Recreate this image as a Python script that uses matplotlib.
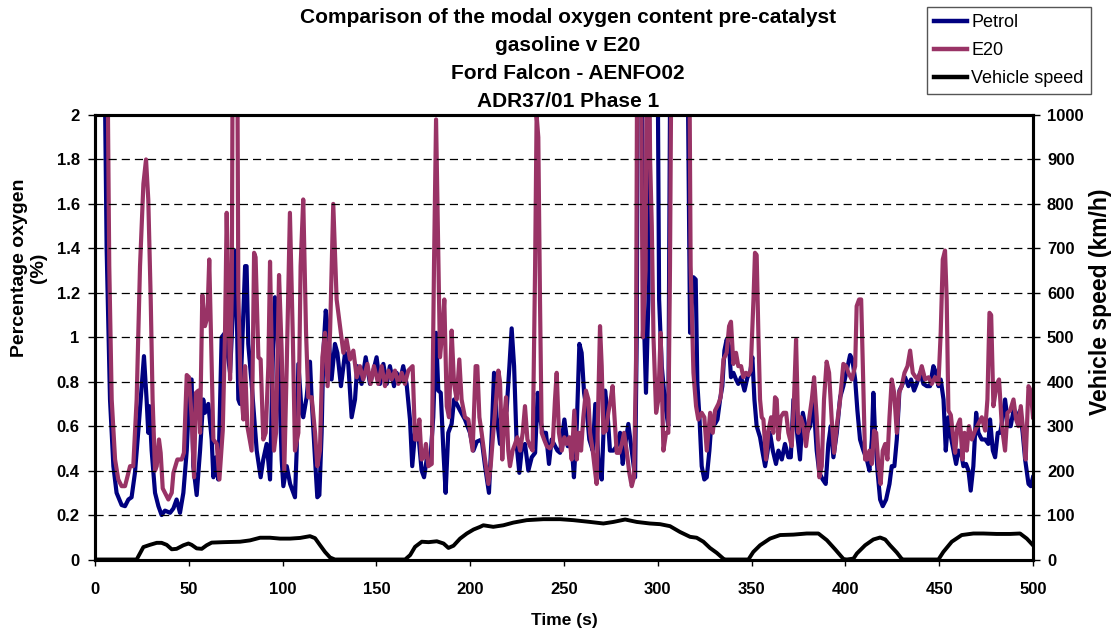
import matplotlib
matplotlib.use("Agg")
import matplotlib.pyplot as plt

plt.rcParams['font.family'] = ['Liberation Sans', 'DejaVu Sans']

# values (3.0 = off the top of the scale)
petrol_t = [4.0, 5.3, 6.2, 8.0, 9.8, 11.5, 14.2, 16.0, 17.8, 19.5, 21.3, 23.1, 24.9, 26.1, 27.5, 28.4, 29.0, 30.2,
            32.0, 33.8, 35.5, 37.3, 40.0, 41.8, 43.5, 45.3, 47.1, 48.9, 50.6, 51.5, 52.4, 54.2, 56.0, 57.7, 58.6,
            60.4, 62.2, 63.1, 64.5, 65.7, 67.5, 69.3, 72.0, 75.0, 76.4, 77.3, 80.0, 80.8, 81.7, 83.5, 86.2, 88.3,
            89.7, 91.5, 93.3, 95.1, 95.9, 97.7, 99.5, 100.4, 102.2, 104.0, 106.6, 107.5, 108.4, 110.2, 111.0,
            112.8, 114.6, 115.5, 117.3, 118.5, 119.6, 120.8, 121.7, 123.0, 124.4, 126.1, 127.9, 129.2, 131.1,
            133.3, 135.0, 136.8, 138.6, 139.8, 142.1, 144.3, 146.6, 148.4, 150.1, 151.9, 153.7, 155.5, 157.2,
            159.4, 160.8, 162.5, 164.3, 166.1, 167.9, 169.1, 170.6, 172.3, 174.1, 175.4, 176.8, 178.6, 180.3,
            181.8, 183.0, 184.3, 185.7, 186.9, 188.3, 190.1, 191.4, 192.8, 194.6, 197.2, 199.9, 201.7, 203.5,
            206.1, 207.9, 210.0, 211.5, 212.7, 214.1, 215.9, 217.7, 219.4, 220.9, 222.1, 223.4, 224.8, 226.2,
            227.4, 229.2, 231.0, 232.8, 234.6, 236.0, 237.2, 238.6, 240.4, 242.0, 243.4, 246.5, 247.9, 250.2,
            252.0, 254.1, 255.3, 256.8, 258.2, 259.4, 260.7, 262.1, 263.5, 265.3, 266.7, 268.3, 270.1, 271.9,
            273.1, 274.5, 276.3, 278.1, 279.9, 281.3, 282.5, 284.3, 286.1, 287.9, 288.8, 289.6, 290.9, 292.3,
            293.7, 295.0, 295.9, 299.4, 300.7, 302.1, 303.9, 305.6, 307.1, 315.1, 317.2, 319.0, 320.2, 321.1,
            322.2, 323.4, 324.8, 326.1, 327.5, 328.7, 330.5, 331.8, 333.2, 334.4, 335.5, 336.7, 338.0, 339.0,
            340.3, 341.7, 342.9, 344.4, 346.2, 347.8, 349.2, 350.4, 351.5, 352.7, 354.5, 355.9, 357.2, 358.4,
            359.8, 361.3, 363.0, 364.3, 366.1, 367.8, 369.6, 370.9, 372.3, 374.1, 375.8, 377.3, 379.4, 381.2,
            382.9, 384.7, 386.1, 387.9, 389.5, 390.9, 392.2, 393.6, 395.4, 397.2, 398.9, 400.7, 402.5, 403.7,
            405.2, 406.4, 407.8, 409.6, 411.4, 412.8, 414.1, 414.9, 415.8, 417.1, 418.5, 419.9, 421.7, 423.5,
            424.7, 426.1, 427.4, 428.8, 430.0, 431.8, 433.6, 435.0, 436.6, 438.0, 439.8, 441.6, 443.4, 445.1,
            446.9, 448.3, 449.6, 450.8, 452.3, 453.5, 454.9, 455.8, 457.6, 459.0, 460.3, 461.7, 462.9, 464.3,
            465.6, 466.8, 468.2, 469.7, 470.9, 472.7, 474.5, 476.2, 477.1, 478.6, 479.8, 481.2, 482.5, 483.9,
            485.1, 486.9, 488.1, 489.6, 491.4, 493.1, 494.5, 495.8, 497.6, 498.8, 500.0]
petrol_o2 = [3.0, 2.1, 1.4, 0.72, 0.42, 0.30, 0.245, 0.24, 0.27, 0.28, 0.39, 0.58, 0.78, 0.915, 0.72, 0.57, 0.69, 0.49,
             0.30, 0.24, 0.20, 0.22, 0.21, 0.23, 0.27, 0.21, 0.30, 0.49, 0.81, 0.81, 0.42, 0.29, 0.49, 0.72, 0.66,
             0.70, 0.54, 0.37, 0.46, 0.36, 1.0, 1.02, 0.84, 1.39, 0.72, 0.70, 1.32, 1.32, 0.97, 0.79, 0.49, 0.37,
             0.45, 0.52, 0.36, 1.02, 1.18, 0.93, 0.45, 0.33, 0.42, 0.34, 0.28, 0.49, 0.88, 0.66, 0.64,
             0.73, 0.89, 0.72, 0.45, 0.28, 0.29, 0.57, 0.93, 1.12, 1.02, 0.81, 0.97, 0.93, 0.78,
             0.93, 0.88, 0.64, 0.72, 0.87, 0.79, 0.91, 0.79, 0.85, 0.91, 0.79, 0.88, 0.79, 0.87,
             0.78, 0.84, 0.80, 0.87, 0.79, 0.63, 0.42, 0.57, 0.57, 0.40, 0.37, 0.45, 0.43, 0.64,
             1.02, 0.76, 0.75, 0.49, 0.30, 0.57, 0.61, 0.72, 0.70, 0.67, 0.63, 0.57, 0.49, 0.53,
             0.54, 0.42, 0.30, 0.57, 0.84, 0.64, 0.52, 0.63, 0.67, 0.87, 1.04, 0.87, 0.51, 0.39,
             0.49, 0.52, 0.40, 0.46, 0.48, 0.75, 0.64, 0.57, 0.57, 0.43, 0.54, 0.49, 0.48, 0.63,
             0.51, 0.51, 0.37, 0.60, 0.97, 0.93, 0.75, 0.67, 0.54, 0.49, 0.70, 0.45, 0.36, 0.76,
             0.67, 0.49, 0.49, 0.51, 0.57, 0.43, 0.51, 0.61, 0.49, 0.37, 1.02, 3.0, 3.0, 1.17,
             0.75, 1.17, 3.0, 3.0, 1.17, 0.87, 0.70, 0.60, 3.0, 3.0, 1.02, 1.27, 1.26, 0.79,
             0.64, 0.42, 0.36, 0.37, 0.49, 0.63, 0.61, 0.63, 0.72, 0.78, 0.94, 0.99, 0.96, 0.82,
             0.84, 0.81, 0.79, 0.82, 0.76, 0.82, 0.84, 0.91, 0.72, 0.60, 0.55, 0.48, 0.42, 0.48,
             0.57, 0.49, 0.43, 0.49, 0.45, 0.52, 0.46, 0.46, 0.72, 0.58, 0.45, 0.66, 0.57, 0.60,
             0.72, 0.49, 0.39, 0.36, 0.34, 0.52, 0.60, 0.46, 0.57, 0.73, 0.78, 0.85, 0.92, 0.90,
             0.81, 0.67, 0.54, 0.49, 0.45, 0.40, 0.54, 0.75, 0.57, 0.40, 0.27, 0.24, 0.27, 0.34,
             0.42, 0.42, 0.54, 0.76, 0.78, 0.82, 0.78, 0.81, 0.76, 0.79, 0.84, 0.79, 0.78, 0.78,
             0.87, 0.84, 0.78, 0.81, 0.72, 0.49, 0.64, 0.57, 0.49, 0.43, 0.49, 0.48, 0.42, 0.43,
             0.40, 0.31, 0.42, 0.66, 0.57, 0.54, 0.54, 0.52, 0.63, 0.49, 0.46, 0.57, 0.57, 0.64,
             0.72, 0.60, 0.60, 0.67, 0.64, 0.67, 0.57, 0.45, 0.34, 0.33, 0.37]

e20_t = [5.5, 6.6, 7.6, 8.9, 10.7, 12.4, 14.2, 16.0, 17.8, 18.7, 20.4, 22.2, 24.0, 25.8, 27.2, 28.4, 29.7, 30.7,
         32.0, 32.9, 34.1, 35.0, 36.1, 37.3, 39.1, 40.9, 41.8, 43.9, 46.2, 47.4, 48.9, 50.1, 51.5, 52.8, 53.8,
         55.1, 56.0, 57.2, 58.6, 59.9, 60.9, 62.2, 63.1, 64.9, 66.3, 68.1, 69.3, 70.2, 71.1, 72.0, 72.9, 73.7,
         75.5, 76.4, 77.6, 79.1, 80.0, 81.2, 83.5, 84.8, 85.6, 87.1, 88.3, 89.7, 91.0, 92.4, 93.3, 94.2, 95.4,
         96.5, 98.1, 99.5, 100.9, 102.2, 103.9, 105.4, 106.6, 108.4, 109.6, 111.0, 112.5, 113.7, 115.5, 117.3,
         118.5, 119.9, 121.2, 122.6, 124.0, 125.3, 127.0, 128.8, 130.6, 132.4, 134.1, 135.9, 137.7, 139.5,
         141.2, 143.0, 145.2, 146.9, 148.7, 151.0, 152.8, 154.6, 156.4, 158.1, 159.9, 161.7, 163.5, 165.2,
         167.0, 169.3, 170.6, 171.8, 172.9, 174.1, 175.4, 176.4, 177.7, 179.5, 180.7, 181.8, 182.8, 183.9,
         185.1, 186.2, 187.5, 188.7, 190.1, 191.4, 192.8, 194.2, 195.4, 197.2, 199.0, 201.3, 202.9, 203.8,
         204.9, 206.1, 207.9, 209.7, 210.9, 212.3, 213.8, 215.0, 215.9, 217.1, 218.2, 219.1, 220.3, 221.2,
         222.6, 223.9, 225.1, 226.6, 228.0, 229.2, 230.5, 231.9, 233.3, 234.6, 235.4, 236.3, 237.2, 238.1,
         239.4, 240.8, 242.5, 244.0, 245.2, 246.1, 247.3, 248.8, 250.2, 251.4, 252.9, 254.1, 255.5, 256.8,
         258.0, 259.1, 260.3, 261.7, 263.0, 263.9, 265.3, 266.5, 267.4, 268.3, 269.2, 270.1, 271.0, 272.4,
         273.6, 274.9, 275.9, 277.2, 278.1, 279.5, 280.8, 282.0, 283.4, 284.8, 286.1, 287.3, 288.4, 289.3,
         290.5, 292.0, 293.5, 294.6, 295.9, 296.8, 297.7, 299.1, 300.3, 301.5, 303.0, 304.4, 305.6, 306.5,
         307.8, 316.3, 317.5, 319.0, 320.4, 321.6, 323.4, 324.8, 326.1, 327.9, 329.3, 330.5, 332.3, 333.5,
         335.0, 336.7, 338.0, 339.0, 340.3, 341.7, 342.9, 344.4, 345.6, 347.0, 348.3, 349.5, 351.0, 351.8,
         352.7, 353.6, 354.5, 355.4, 356.3, 357.7, 359.0, 360.4, 361.6, 362.5, 363.4, 364.3, 365.5, 367.0,
         368.4, 369.6, 371.4, 372.6, 373.7, 374.9, 376.2, 377.6, 379.0, 380.8, 382.1, 383.3, 384.7, 386.1,
         387.4, 388.6, 390.0, 391.3, 392.7, 394.0, 395.4, 397.2, 398.9, 400.4, 401.6, 403.4, 405.2, 406.0,
         407.3, 408.4, 409.3, 410.5, 411.7, 412.8, 414.1, 415.3, 416.4, 417.6, 418.8, 419.9, 421.2, 422.4,
         423.5, 424.7, 426.0, 427.4, 428.6, 430.0, 431.5, 433.1, 434.5, 435.9, 437.5, 438.9, 440.7, 442.5,
         444.3, 446.0, 447.8, 449.6, 450.8, 451.9, 453.1, 454.0, 454.9, 456.2, 457.2, 458.5, 459.7, 461.1,
         462.4, 463.5, 464.7, 465.9, 467.4, 469.1, 470.9, 472.7, 474.5, 475.7, 476.8, 477.7, 478.9, 480.7,
         481.9, 483.4, 485.1, 486.4, 487.8, 489.6, 491.0, 492.2, 493.5, 494.9, 496.1, 497.6, 498.8, 500.0]
e20_o2 = [3.0, 2.3, 1.32, 0.72, 0.45, 0.36, 0.33, 0.33, 0.39, 0.42, 0.42, 0.72, 1.32, 1.69, 1.80, 1.62, 1.17, 0.72,
          0.40, 0.42, 0.54, 0.48, 0.32, 0.30, 0.27, 0.30, 0.39, 0.45, 0.45, 0.48, 0.83, 0.82, 0.64, 0.37, 0.75,
          0.76, 0.57, 1.19, 1.05, 1.09, 1.35, 0.87, 0.54, 0.52, 0.36, 0.58, 1.02, 1.56, 1.17, 0.81, 1.2, 3.0,
          3.0, 1.2, 0.79, 0.63, 0.87, 0.60, 0.49, 1.38, 1.36, 0.91, 0.90, 0.54, 0.57, 0.87, 1.34, 0.94, 0.49,
          0.57, 1.28, 0.94, 0.40, 0.87, 1.56, 1.02, 0.49, 0.57, 1.32, 1.62, 1.02, 0.73, 0.73, 0.57,
          0.42, 0.49, 0.91, 1.02, 0.78, 1.02, 1.60, 1.17, 1.05, 0.93, 0.99, 0.90, 0.94, 0.82,
          0.87, 0.81, 0.88, 0.79, 0.87, 0.79, 0.87, 0.78, 0.85, 0.81, 0.85, 0.79, 0.84, 0.79,
          0.85, 0.87, 0.54, 0.54, 0.63, 0.45, 0.46, 0.52, 0.42, 0.43, 1.32, 1.98, 1.47, 0.91,
          1.02, 1.17, 0.69, 0.64, 1.03, 0.79, 0.72, 0.90, 0.72, 0.64, 0.63, 0.49, 0.87, 0.87,
          0.64, 0.57, 0.45, 0.34, 0.42, 0.57, 0.72, 0.85, 0.80, 0.45, 0.64, 0.73, 0.49, 0.42,
          0.49, 0.52, 0.55, 0.49, 0.57, 0.69, 0.54, 0.51, 0.49, 1.32, 2.0, 1.9, 1.17, 0.57,
          0.54, 0.51, 0.50, 0.52, 0.72, 0.84, 0.57, 0.49, 0.55, 0.52, 0.55, 0.45, 0.67, 0.45,
          0.57, 0.49, 0.64, 0.76, 0.72, 0.57, 0.49, 0.40, 0.34, 0.72, 1.05, 0.87, 0.57, 0.58,
          0.66, 0.72, 0.78, 0.60, 0.48, 0.48, 0.52, 0.57, 0.49, 0.39, 0.33, 0.37, 0.9, 3.0,
          3.0, 1.0, 1.3, 3.0, 1.8, 1.5, 1.0, 0.66, 0.72, 1.02, 0.49, 0.57, 0.57, 1.32,
          3.0, 3.0, 1.32, 0.84, 0.69, 0.63, 0.66, 0.64, 0.49, 0.66, 0.57, 0.67, 0.70, 0.73,
          0.90, 0.93, 1.05, 1.07, 0.88, 0.93, 0.87, 0.87, 0.82, 0.84, 0.83, 0.85, 1.17, 1.38,
          1.37, 1.02, 0.72, 0.64, 0.63, 0.45, 0.58, 0.64, 0.57, 0.73, 0.72, 0.54, 0.64, 0.66,
          0.66, 0.57, 0.51, 0.72, 0.99, 0.57, 0.64, 0.60, 0.51, 0.64, 0.72, 0.82, 0.64, 0.37,
          0.42, 0.72, 0.89, 0.84, 0.63, 0.48, 0.60, 0.72, 0.88, 0.87, 0.84, 0.81, 0.87, 1.14,
          1.17, 1.17, 0.87, 0.45, 0.45, 0.49, 0.43, 0.58, 0.57, 0.42, 0.34, 0.49, 0.52, 0.45,
          0.64, 0.81, 0.75, 0.57, 0.75, 0.78, 0.84, 0.87, 0.94, 0.84, 0.82, 0.81, 0.87, 0.81,
          0.82, 0.79, 0.82, 0.79, 1.02, 1.35, 1.39, 1.17, 0.67, 0.65, 0.57, 0.48, 0.60, 0.63,
          0.45, 0.57, 0.49, 0.60, 0.54, 0.58, 0.61, 0.64, 0.58, 0.72, 1.11, 1.10, 0.69, 0.79,
          0.81, 0.60, 0.49, 0.66, 0.67, 0.72, 0.63, 0.60, 0.69, 0.57, 0.45, 0.78, 0.76, 0.64]

speed_t = [0, 22.2, 25.8, 29.3, 32.9, 35.5, 38.2, 40.9, 43.5, 47.1, 49.8, 51.5, 54.2, 56.9, 59.5, 62.2, 68.4, 77.3,
           82.6, 88.0, 93.3, 98.6, 104.0, 109.3, 114.6, 117.3, 120.0, 122.6, 125.3, 127.9, 165.3, 168.0, 170.6,
           174.2, 177.8, 182.2, 185.8, 188.4, 191.1, 194.6, 198.2, 201.8, 205.3, 207.0, 212.3, 217.7, 223.0,
           230.1, 239.0, 247.9, 255.0, 263.9, 271.0, 276.3, 282.6, 288.8, 295.8, 301.2, 306.5, 311.8, 317.2,
           320.7, 324.3, 327.8, 331.4, 334.9, 335.8, 348.3, 350.9, 354.5, 359.8, 365.2, 372.3, 379.4, 385.6,
           390.1, 394.5, 399.0, 400.8, 404.3, 406.1, 410.5, 414.9, 418.5, 421.2, 423.8, 427.4, 430.1, 430.9,
           449.6, 452.2, 456.7, 462.0, 468.2, 473.5, 480.6, 487.8, 493.1, 496.7, 500.0]
speed_kmh = [0, 0, 28, 33, 37.5, 37.5, 33, 23, 24, 32, 36, 33, 25, 24, 32, 38, 39, 40,
             43, 49, 49, 47, 47, 48.5, 52.5, 48, 32, 17, 4.5, 0, 0, 10, 28.5,
             40, 39, 41, 36, 26, 31, 47, 58.5, 67.5, 73.5, 77, 73.5, 77, 83,
             88.5, 90.7, 90.7, 88.5, 84.5, 81, 84.5, 90, 84.5, 81, 79.5, 75, 62, 51,
             49, 40, 26, 15, 2, 0, 0, 17, 32, 47, 55, 56, 58.5, 58.5,
             43.5, 23, 1, 0, 2, 13.5, 32, 45, 49.5, 45, 32, 15.7, 1, 0,
             0, 17, 40, 55, 58.5, 58.5, 57.5, 57.5, 58.5, 47, 32]

fig = plt.figure(figsize=(11.16, 6.32), dpi=100)
ax = fig.add_axes([95 / 1116, 1 - 559.5 / 632, 938 / 1116, 444.5 / 632])
ax2 = ax.twinx()

l1, = ax.plot(petrol_t, petrol_o2, color='#000080', lw=3, solid_joinstyle='round', label='Petrol')
l2, = ax.plot(e20_t, e20_o2, color='#993366', lw=3, solid_joinstyle='round', label='E20')
l3, = ax2.plot(speed_t, speed_kmh, color='black', lw=2.8, solid_joinstyle='round', label='Vehicle speed')

ax.set_xlim(0, 500)
ax.set_ylim(0, 2)
ax2.set_ylim(0, 1000)
ax.set_xticks(range(0, 501, 50))
ax.set_yticks([i / 5 for i in range(11)])
ax.set_yticklabels(['0', '0.2', '0.4', '0.6', '0.8', '1', '1.2', '1.4', '1.6', '1.8', '2'])
ax2.set_yticks(range(0, 1001, 100))

for y in [i / 5 for i in range(1, 10)]:
    ax.axhline(y, color='black', lw=0.9, dashes=(6.5, 4))

for a in (ax, ax2):
    for s in a.spines.values():
        s.set_linewidth(2.2)
ax.tick_params(axis='x', direction='out', length=4.5, width=1, pad=12, labelsize=12)
ax.tick_params(axis='y', direction='out', length=5, width=1, pad=6, labelsize=12)
ax2.tick_params(axis='y', direction='out', length=5, width=1, pad=5, labelsize=12)
for lab in ax.get_xticklabels() + ax.get_yticklabels() + ax2.get_yticklabels():
    lab.set_fontweight('bold')

fig.text(564 / 1116, 1 - 620 / 632, 'Time (s)', ha='center', va='center', fontsize=12.5, fontweight='bold')
fig.text(29 / 1116, 1 - 268 / 632, 'Percentage oxygen\n(%)', ha='center', va='center', rotation=90,
         fontsize=14, fontweight='bold', linespacing=1.1)
fig.text(1101 / 1116, 1 - 302 / 632, 'Vehicle speed (km/h)', ha='center', va='center', rotation=90,
         fontsize=16.5, fontweight='bold')

fig.text(568 / 1116, 1 - 59.5 / 632,
         'Comparison of the modal oxygen content pre-catalyst\ngasoline v E20\nFord Falcon - AENFO02\nADR37/01 Phase 1',
         ha='center', va='center', fontsize=15, fontweight='bold', linespacing=1.6)

leg = fig.legend([l1, l2, l3], ['Petrol', 'E20', 'Vehicle speed'], loc='upper left',
                 bbox_to_anchor=(927 / 1116, 1 - 7 / 632), fontsize=13, frameon=True, fancybox=False,
                 edgecolor='#555555', framealpha=1, handlelength=1.8, handletextpad=0.25,
                 borderpad=0.4, labelspacing=0.6, borderaxespad=0)
leg.get_frame().set_linewidth(1.0)
for h in leg.get_lines():
    h.set_linewidth(3.2)

fig.savefig('out.png', dpi=100)
